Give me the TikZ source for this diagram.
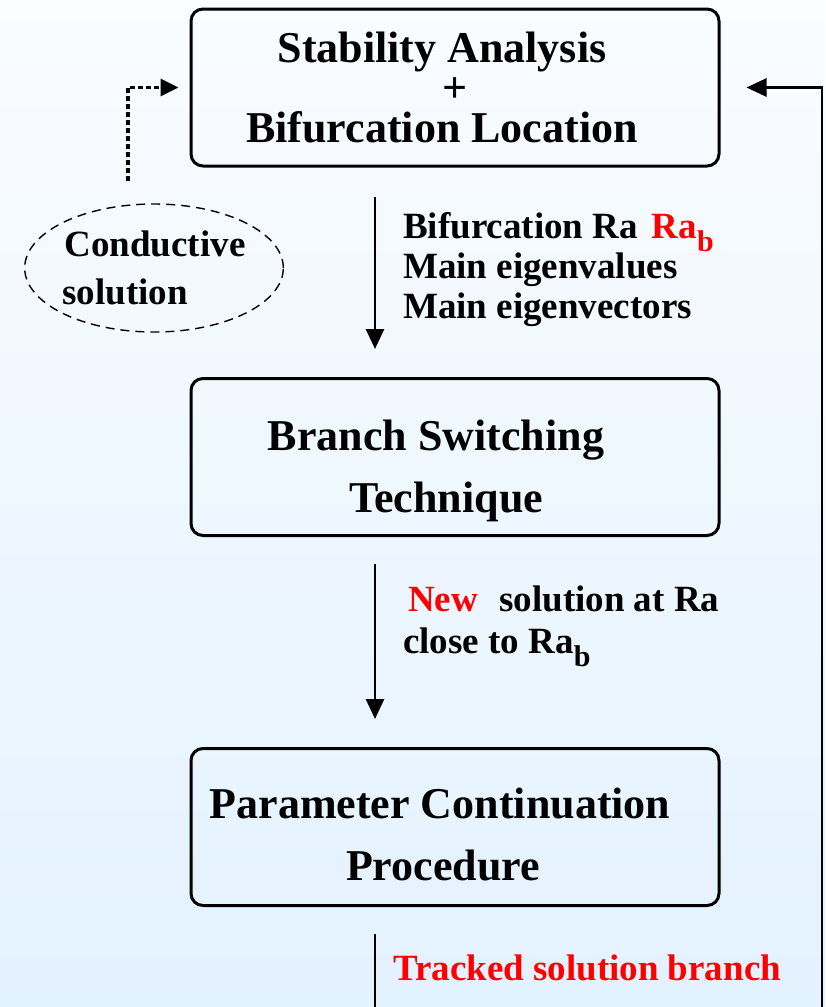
\documentclass[tikz,border=0pt]{standalone}
\usepackage{xcolor}
\usepackage{fontspec}
\setmainfont{Liberation Serif}
\usepackage{tikz}
\usetikzlibrary{positioning,shapes.geometric,arrows.meta}

\definecolor{bgtop}{RGB}{250,252,255}
\definecolor{bgbot}{RGB}{227,242,255}
\newcommand{\rasub}{\raisebox{-13pt}{\fontsize{30}{30}\selectfont b}}
\newcommand{\boxpad}{\hspace*{26pt}}

\begin{document}
\begin{tikzpicture}[
				x=1pt, y=-1pt,
				stagebox/.style={rectangle, rounded corners=12pt, draw=black, line width=3pt, minimum width=528pt, minimum height=157pt, align=center, font=\bfseries\fontsize{44}{62}\selectfont},
				condnode/.style={ellipse, draw=black, dashed, dash pattern=on 9pt off 6pt, line width=1.4pt, minimum width=255pt, minimum height=128pt, inner sep=0pt, align=left, font=\bfseries\fontsize{37}{48}\selectfont},
				infotext/.style={anchor=west, inner sep=0pt, align=left, font=\bfseries\fontsize{37}{40}\selectfont},
				flow/.style={line width=2.8pt, -{Triangle[length=20pt,width=18pt]}},
				dotflow/.style={line width=3.2pt, dash pattern=on 5pt off 3pt, -{Triangle[length=18pt,width=17pt]}},
				]
				%Background
				\shade[top color=bgtop, bottom color=bgbot] (0,0) rectangle (825,1007);
				\useasboundingbox (0,0) rectangle (825,1007);
				
				%Nodes
				\node[stagebox, font=\bfseries\fontsize{44}{40}\selectfont](stab) at (455,87.5){Stability Analysis\boxpad\\+\boxpad\\Bifurcation Location\boxpad};
				\node[stagebox](branch) at (455,457){\rule{0pt}{58pt}Branch Switching\hspace*{38pt}\\Technique\hspace*{18pt}};
				\node[stagebox](cont) at (455,827){\rule{0pt}{46pt}Parameter Continuation\hspace*{30pt}\\Procedure\hspace*{24pt}};
				\node[condnode](cond) at (154,268){\hspace{2pt}Conductive\\solution};
				
				\node[infotext](bifinfo) at (403,270){Bifurcation Ra\hspace{14pt}\textcolor{red}{Ra\rasub}\\Main eigenvalues\\Main eigenvectors};
				\node[infotext, font=\bfseries\fontsize{37}{42}\selectfont](newinfo) at (403,626){\hspace{5pt}\textcolor{red}{New}\hspace{12pt} solution at Ra\\close to Ra\rasub};
				\node[infotext, text=red](trackinfo) at (393,968){Tracked solution branch};
				
				\coordinate (trackend) at (375,1012);
				\coordinate (loopstart) at (822,1012);
				
				%Lines
				\draw[flow] ([xshift=-80pt,yshift=-29pt]stab.south) -- ([xshift=-80pt,yshift=28pt]branch.north);
				\draw[flow] ([xshift=-80pt,yshift=-27pt]branch.south) -- ([xshift=-80pt,yshift=28pt]cont.north);
				\draw[line width=2.8pt] ([xshift=-80pt,yshift=-27pt]cont.south) -- (trackend);
				\draw[flow] (loopstart) |- ([xshift=26pt]stab.east);
				\draw[dotflow] ([xshift=-26pt,yshift=22pt]cond.north) |- ([xshift=-11pt]stab.west);
				
			\end{tikzpicture}
\end{document}
